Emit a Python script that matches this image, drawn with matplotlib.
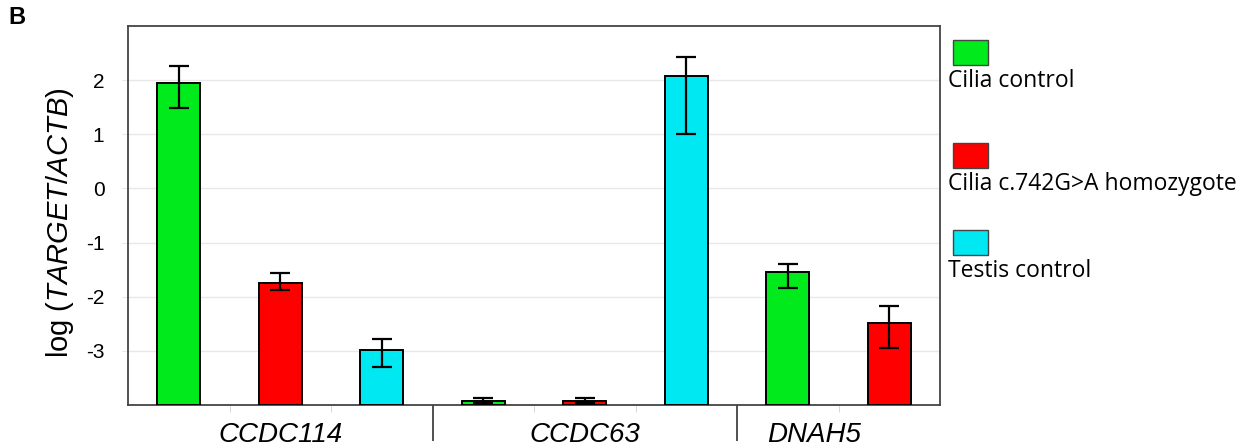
import matplotlib
matplotlib.use("Agg")
import matplotlib.pyplot as plt
import matplotlib.transforms as mtransforms
from matplotlib.patches import Rectangle

# data (log TARGET/ACTB)
genes = ["CCDC114", "CCDC63", "DNAH5"]
series = ["Cilia control", "Cilia c.742G>A homozygote", "Testis control"]
colors = ["#00ea1c", "#ff0000", "#00e8f2"]

# one entry per bar: (gene index, series index)
bar_gene = [0, 0, 0, 1, 1, 1, 2, 2]
bar_series = [0, 1, 2, 0, 1, 2, 0, 1]
values = [1.94, -1.74, -2.99, -3.93, -3.93, 2.07, -1.55, -2.49]
err_low = [0.46, 0.13, 0.31, 0.04, 0.04, 1.07, 0.28, 0.46]
err_high = [0.32, 0.17, 0.20, 0.06, 0.06, 0.35, 0.16, 0.31]

yticks = [-3, -2, -1, 0, 1, 2]
base = -4

plt.rcParams["font.family"] = ["Liberation Sans", "DejaVu Sans"]
plt.rcParams["mathtext.fontset"] = "custom"
plt.rcParams["mathtext.rm"] = "Liberation Sans"
plt.rcParams["mathtext.it"] = "Liberation Sans:italic"

fig = plt.figure(figsize=(12.49, 4.48), dpi=100)
ax = fig.add_axes([128 / 1249, 1 - 405 / 448, 812 / 1249, 379 / 448])

x = list(range(len(values)))
ax.bar(x, [v - base for v in values], bottom=base, width=0.42,
       color=[colors[s] for s in bar_series], edgecolor="black", linewidth=1.4, zorder=3)
ax.errorbar(x, values, yerr=[err_low, err_high], fmt="none", ecolor="black",
            elinewidth=1.6, capsize=7, capthick=1.6, zorder=4)

ax.set_xlim(-0.5, len(values) - 0.5)
ax.set_ylim(base, 3)
ax.set_yticks(yticks)
ax.set_yticklabels([str(t) for t in yticks], fontsize=15)
ax.yaxis.grid(True, color="#e8e8e8", linewidth=1, zorder=0)
ax.tick_params(axis="y", length=4, color="#e8e8e8", pad=13)

# minor ticks at every slot, long separators between genes
ax.set_xticks([i + 0.5 for i in range(len(values) - 1)], minor=True)
ax.set_xticks([2.5, 5.5])
ax.set_xticklabels([])
ax.tick_params(axis="x", which="minor", length=5, color="#d0d0d0")
ax.tick_params(axis="x", which="major", length=26, width=1.2, color="#333333")

for sp in ax.spines.values():
    sp.set_color("#444444")
    sp.set_linewidth(1.3)

trans = mtransforms.blended_transform_factory(ax.transData, ax.transAxes)
gene_pos = [1.0, 4.0, 6.26]
for g, pos in zip(genes, gene_pos):
    ax.text(pos, -0.078, g, transform=trans, ha="center", va="center",
            fontsize=20, style="italic")

fig.text(60 / 1249, 1 - 223 / 448, r"log ($\mathit{TARGET/ACTB}$)", rotation=90,
         ha="center", va="center", fontsize=21)

fig.text(8 / 1249, 1 - 18 / 448, "B", fontsize=17, fontweight="bold",
         ha="left", va="center")

# legend: swatch above each label
leg_top = [40, 143, 230]
for name, col, top in zip(series, colors, leg_top):
    fig.add_artist(Rectangle((953 / 1249, 1 - (top + 25) / 448), 35 / 1249, 25 / 448,
                             transform=fig.transFigure, facecolor=col,
                             edgecolor="#444444", linewidth=1))
    fig.text(948 / 1249, 1 - (top + 29) / 448, name, fontsize=16.5,
             family=["Open Sans", "DejaVu Sans"], ha="left", va="top")

fig.savefig("out.png", dpi=100)
